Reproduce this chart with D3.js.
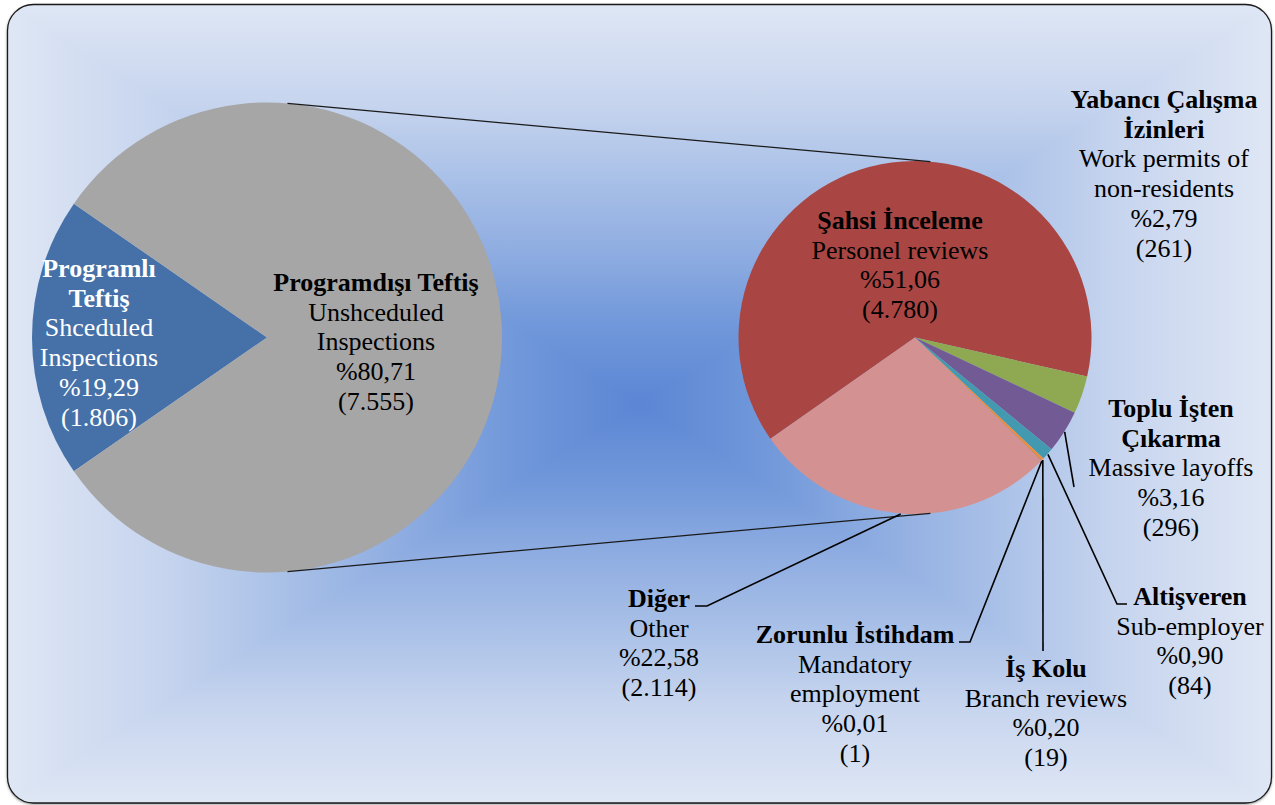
<!DOCTYPE html>
<html>
<head>
<meta charset="utf-8">
<script src="https://cdn.jsdelivr.net/npm/d3@7"></script>
<style>
  body { margin: 0; background: #ffffff; }
  svg { display: block; }
  text { font-family: "Liberation Serif", "Times New Roman", serif; font-size: 26px; }
</style>
</head>
<body>
<div id="chart"></div>
<script>
// data
var mainNames   = ["Programlı\nTeftiş", "Programdışı Teftiş"];
var mainEnglish = ["Shceduled\nInspections", "Unshceduled\nInspections"];
var mainValues  = [1806, 7555];
var mainColors  = ["#4571a8", "#a6a6a6"];

var subNames   = ["Şahsi İnceleme", "Yabancı Çalışma\nİzinleri", "Toplu İşten\nÇıkarma", "Altişveren", "İş Kolu", "Zorunlu İstihdam", "Diğer"];
var subEnglish = ["Personel reviews", "Work permits of\nnon-residents", "Massive layoffs", "Sub-employer", "Branch reviews", "Mandatory\nemployment", "Other"];
var subValues  = [4780, 261, 296, 84, 19, 1, 2114];
var subColors  = ["#a94643", "#8ea951", "#725a95", "#4299b0", "#f28c38", "#2c4d75", "#d39291"];

// label layout (text centre x, first baseline y, leader bends)
var mainLabelPos = [
  {x: 99, y: 277, fill: "#ffffff"},
  {x: 376, y: 291, fill: "#000000"}
];
var subLabelPos = [
  {x: 900, y: 229},
  {x: 1164, y: 108},
  {x: 1171, y: 417, leader: [[1074, 487]]},
  {x: 1190, y: 605, leader: [[1117, 604], [1127, 604]]},
  {x: 1046, y: 677, leader: [[1043, 651]]},
  {x: 855, y: 643, leader: [[970, 642], [959, 642]]},
  {x: 659, y: 607, leader: [[707, 606], [695, 606]]}
];

var W = 1275, H = 805;
var lineH = 29.7;
var total = d3.sum(mainValues);
var loc = d3.formatLocale({decimal: ",", thousands: ".", grouping: [3], currency: ["", ""]});
var fmtCount = loc.format(",d");
var fmtPct = function(v) { return "%" + (v / total * 100).toFixed(2).replace(".", ","); };

var svg = d3.select("#chart").append("svg")
    .attr("width", W)
    .attr("height", H);

var defs = svg.append("defs");

// frame
var fx = 7.5, fy = 4.5, fw = 1264, fh = 798.5, fr = 26;
var cx = 640, cy = 404;

defs.append("clipPath").attr("id", "frameClip")
  .append("rect")
    .attr("x", fx).attr("y", fy).attr("width", fw).attr("height", fh)
    .attr("rx", fr).attr("ry", fr);

var shadow = defs.append("filter").attr("id", "shadow")
    .attr("x", "-5%").attr("y", "-5%").attr("width", "110%").attr("height", "110%");
shadow.append("feDropShadow")
    .attr("dx", 0).attr("dy", 1).attr("stdDeviation", 1.6)
    .attr("flood-color", "#000").attr("flood-opacity", 0.6);

var stops = [
  [0, "#5b86d4"], [0.2, "#7198da"], [0.4, "#92afe2"], [0.55, "#a7bfe7"],
  [0.75, "#c6d4ee"], [0.9, "#d5dff2"], [1, "#dfe7f5"]
];

// rectangular "from centre" gradient, made of four triangles
var x0 = fx, x1 = fx + fw, y0 = fy, y1 = fy + fh;
var sides = [
  {id: "gTop",    pts: [[x0, y0], [x1, y0], [cx, cy]], to: [cx, y0]},
  {id: "gBottom", pts: [[x0, y1], [x1, y1], [cx, cy]], to: [cx, y1]},
  {id: "gLeft",   pts: [[x0, y0], [x0, y1], [cx, cy]], to: [x0, cy]},
  {id: "gRight",  pts: [[x1, y0], [x1, y1], [cx, cy]], to: [x1, cy]}
];
sides.forEach(function(s) {
  var lg = defs.append("linearGradient").attr("id", s.id)
      .attr("gradientUnits", "userSpaceOnUse")
      .attr("x1", cx).attr("y1", cy).attr("x2", s.to[0]).attr("y2", s.to[1]);
  stops.forEach(function(st) {
    lg.append("stop").attr("offset", st[0]).attr("stop-color", st[1]);
  });
});

svg.append("rect")
    .attr("x", fx).attr("y", fy).attr("width", fw).attr("height", fh)
    .attr("rx", fr).attr("ry", fr)
    .attr("fill", "#dfe7f5")
    .style("filter", "url(#shadow)");

var bg = svg.append("g").attr("clip-path", "url(#frameClip)");
bg.selectAll("polygon")
    .data(sides)
  .enter().append("polygon")
    .attr("points", function(d) { return d.pts.map(function(p) { return p.join(","); }).join(" "); })
    .attr("fill", function(d) { return "url(#" + d.id + ")"; })
    .attr("stroke", function(d) { return "url(#" + d.id + ")"; })
    .attr("stroke-width", 1);

svg.append("rect")
    .attr("x", fx).attr("y", fy).attr("width", fw).attr("height", fh)
    .attr("rx", fr).attr("ry", fr)
    .attr("fill", "none")
    .attr("stroke", "#1a1a1a")
    .attr("stroke-width", 1.3);

// pies
var leftPie  = {cx: 267, cy: 337.5, r: 235};
var rightPie = {cx: 915, cy: 337.5, r: 176.5};

var rad = Math.PI / 180;
var blueHalf = mainValues[0] / total * Math.PI;
var mainStart = 270 * rad - blueHalf;
var pieMain = d3.pie().sort(null).startAngle(mainStart).endAngle(mainStart + 2 * Math.PI);
var subStart = -125 * rad;
var pieSub = d3.pie().sort(null).startAngle(subStart).endAngle(subStart + 2 * Math.PI);

var arcMain = d3.arc().innerRadius(0).outerRadius(leftPie.r);
var arcSub  = d3.arc().innerRadius(0).outerRadius(rightPie.r);

var gMain = svg.append("g").attr("transform", "translate(" + leftPie.cx + "," + leftPie.cy + ")");
gMain.selectAll("path")
    .data(pieMain(mainValues))
  .enter().append("path")
    .attr("d", arcMain)
    .attr("fill", function(d, i) { return mainColors[i]; });

var gSub = svg.append("g").attr("transform", "translate(" + rightPie.cx + "," + rightPie.cy + ")");
var subArcs = pieSub(subValues);
gSub.selectAll("path")
    .data(subArcs)
  .enter().append("path")
    .attr("d", arcSub)
    .attr("fill", function(d, i) { return subColors[i]; });

// connector lines between the two pies
function onCircle(p, a) {
  return [p.cx + p.r * Math.sin(a), p.cy - p.r * Math.cos(a)];
}
var connAngles = [5 * rad, 175 * rad];
svg.selectAll(".connector")
    .data(connAngles)
  .enter().append("line")
    .attr("class", "connector")
    .attr("x1", function(a) { return onCircle(leftPie, a)[0]; })
    .attr("y1", function(a) { return onCircle(leftPie, a)[1]; })
    .attr("x2", function(a) { return onCircle(rightPie, a)[0]; })
    .attr("y2", function(a) { return onCircle(rightPie, a)[1]; })
    .attr("stroke", "#1a1a1a")
    .attr("stroke-width", 1.3);

// leader lines
subArcs.forEach(function(d, i) {
  var lay = subLabelPos[i];
  if (!lay.leader) return;
  var mid = (d.startAngle + d.endAngle) / 2;
  var start = onCircle({cx: rightPie.cx, cy: rightPie.cy, r: rightPie.r + 0.5}, mid);
  var pts = [start].concat(lay.leader);
  svg.append("path")
      .attr("d", d3.line()(pts))
      .attr("fill", "none")
      .attr("stroke", "#000")
      .attr("stroke-width", 1.6);
});

// labels
function drawLabel(pos, name, english, value, fill) {
  var lines = [];
  name.split("\n").forEach(function(s) { lines.push({t: s, b: true}); });
  english.split("\n").forEach(function(s) { lines.push({t: s, b: false}); });
  lines.push({t: fmtPct(value), b: false});
  lines.push({t: "(" + fmtCount(value) + ")", b: false});
  var t = svg.append("text")
      .attr("text-anchor", "middle")
      .attr("fill", fill || "#000");
  lines.forEach(function(l, k) {
    t.append("tspan")
        .attr("x", pos.x)
        .attr("y", pos.y + k * lineH)
        .attr("font-weight", l.b ? "bold" : "normal")
        .text(l.t);
  });
}

mainValues.forEach(function(v, i) {
  drawLabel(mainLabelPos[i], mainNames[i], mainEnglish[i], v, mainLabelPos[i].fill);
});
subValues.forEach(function(v, i) {
  drawLabel(subLabelPos[i], subNames[i], subEnglish[i], v, "#000");
});
</script>
</body>
</html>
